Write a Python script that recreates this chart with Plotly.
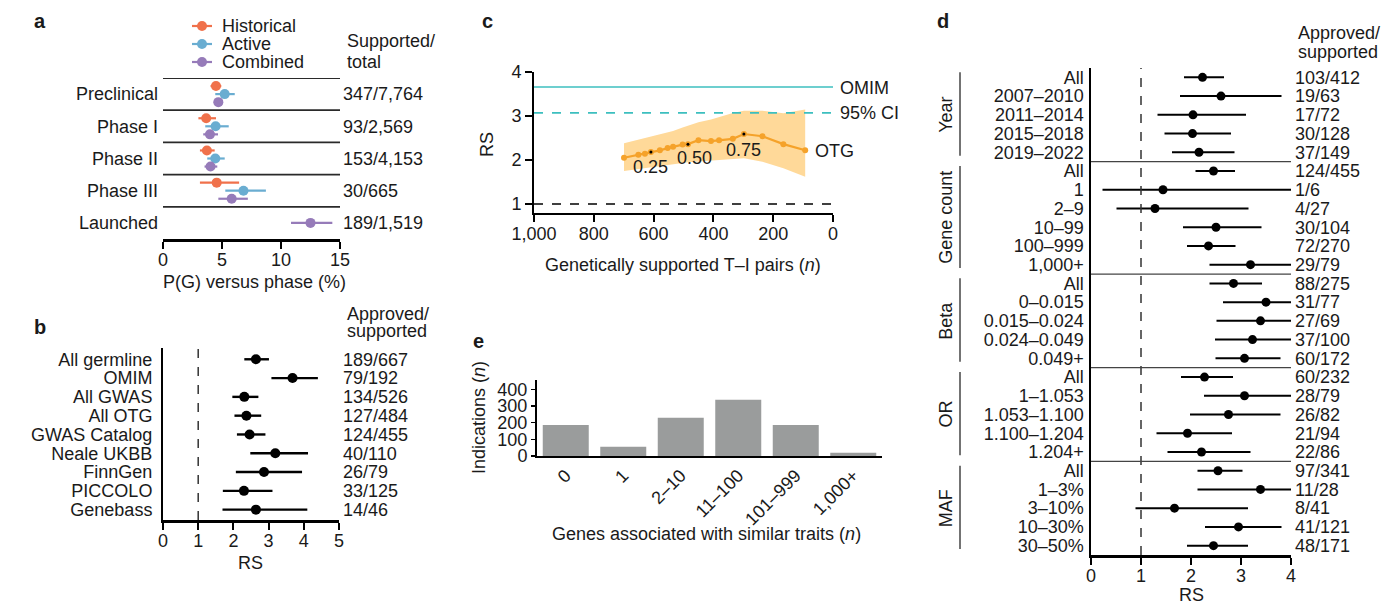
import plotly.graph_objects as go

W, H = 1386, 601
FONT = "Liberation Sans, Arial, Helvetica, sans-serif"
TXT = "#1a1a1a"
FS = 18

def fx(p):
    return p / W

def fy(p):
    return 1 - p / H

# ---------------- Panel a data ----------------
phases = ["Preclinical", "Phase I", "Phase II", "Phase III", "Launched"]
supported_total = ["347/7,764", "93/2,569", "153/4,153", "30/665", "189/1,519"]
series_names = ["Historical", "Active", "Combined"]
series_colors = ["#F0714B", "#6AADD1", "#967BB9"]
hist_pg = [4.49, 3.66, 3.72, 4.55, None]
hist_lo = [4.03, 3.00, 3.13, 3.13, None]
hist_hi = [4.94, 4.49, 4.38, 6.45, None]
active_pg = [5.23, 4.46, 4.43, 6.82, None]
active_lo = [4.43, 3.58, 3.75, 5.28, None]
active_hi = [6.08, 5.57, 5.23, 8.72, None]
comb_pg = [4.69, 3.98, 4.03, 5.82, 12.50]
comb_lo = [4.30, 3.41, 3.52, 4.69, 10.85]
comb_hi = [5.06, 4.66, 4.60, 7.19, 14.35]

# ---------------- Panel b data ----------------
sources = ["All germline", "OMIM", "All GWAS", "All OTG", "GWAS Catalog",
           "Neale UKBB", "FinnGen", "PICCOLO", "Genebass"]
src_rs = [2.64, 3.68, 2.31, 2.37, 2.46, 3.19, 2.87, 2.30, 2.64]
src_lo = [2.31, 3.08, 1.97, 2.03, 2.10, 2.48, 2.07, 1.70, 1.69]
src_hi = [3.01, 4.40, 2.71, 2.79, 2.91, 4.12, 3.95, 3.11, 4.10]
src_counts = ["189/667", "79/192", "134/526", "127/484", "124/455",
              "40/110", "26/79", "33/125", "14/46"]

# ---------------- Panel c data ----------------
otg_n = [699, 651, 629, 609, 579, 553, 535, 503, 485, 450, 408, 381, 335, 298, 236, 166, 93]
otg_rs = [2.05, 2.12, 2.14, 2.18, 2.22, 2.27, 2.30, 2.35, 2.36, 2.45, 2.43, 2.45, 2.48, 2.59, 2.54, 2.36, 2.22]
otg_lo = [1.75, 1.79, 1.81, 1.83, 1.85, 1.88, 1.90, 1.93, 1.95, 1.97, 1.99, 2.00, 2.02, 2.04, 1.96, 1.81, 1.62]
otg_hi = [2.38, 2.46, 2.50, 2.53, 2.58, 2.62, 2.66, 2.74, 2.78, 2.86, 2.92, 2.97, 3.07, 3.12, 3.12, 3.06, 3.15]
quantile_idx = [3, 8, 13]
quantile_labels = ["0.25", "0.50", "0.75"]
omim_rs = 3.66
omim_ci_lo = 3.07
c_xticks = [1000, 800, 600, 400, 200, 0]
c_yticks = [1, 2, 3, 4]

# ---------------- Panel e data ----------------
gene_bins = ["0", "1", "2–10", "11–100", "101–999", "1,000+"]
indications = [186, 56, 230, 338, 186, 20]

# ---------------- Panel d data ----------------
d_labels = ["All", "2007–2010", "2011–2014", "2015–2018", "2019–2022",
            "All", "1", "2–9", "10–99", "100–999", "1,000+",
            "All", "0–0.015", "0.015–0.024", "0.024–0.049", "0.049+",
            "All", "1–1.053", "1.053–1.100", "1.100–1.204", "1.204+",
            "All", "1–3%", "3–10%", "10–30%", "30–50%"]
d_groups = ["Year", "Gene count", "Beta", "OR", "MAF"]
d_group_sizes = [5, 6, 5, 5, 5]
d_rs = [2.23, 2.60, 2.04, 2.03, 2.16,
        2.45, 1.44, 1.28, 2.50, 2.35, 3.19,
        2.85, 3.50, 3.39, 3.23, 3.07,
        2.27, 3.07, 2.75, 1.93, 2.21,
        2.54, 3.39, 1.67, 2.95, 2.45]
d_lo = [1.86, 1.78, 1.33, 1.47, 1.62,
        2.09, 0.23, 0.51, 1.84, 1.92, 2.37,
        2.37, 2.64, 2.51, 2.48, 2.49,
        1.80, 2.26, 1.98, 1.31, 1.53,
        2.13, 2.13, 0.89, 2.28, 1.92]
d_hi = [2.66, 3.81, 3.10, 2.80, 2.87,
        2.88, 4.60, 3.15, 3.41, 2.89, 4.30,
        3.42, 4.50, 4.40, 4.30, 3.79,
        2.84, 4.20, 3.79, 2.82, 3.19,
        3.03, 4.80, 3.14, 3.81, 3.14]
d_counts = ["103/412", "19/63", "17/72", "30/128", "37/149",
            "124/455", "1/6", "4/27", "30/104", "72/270", "29/79",
            "88/275", "31/77", "27/69", "37/100", "60/172",
            "60/232", "28/79", "26/82", "21/94", "22/86",
            "97/341", "11/28", "8/41", "41/121", "48/171"]

fig = go.Figure()
tickfont = dict(family=FONT, size=FS, color=TXT)

# ---------------- Panel a traces ----------------
series_vals = [(hist_pg, hist_lo, hist_hi), (active_pg, active_lo, active_hi), (comb_pg, comb_lo, comb_hi)]
offsets = [-0.25, 0.0, 0.25]
for s, (vals, lo, hi) in enumerate(series_vals):
    xs, ys, ep, em = [], [], [], []
    for k, v in enumerate(vals):
        if v is None:
            continue
        n_present = sum(1 for sv in series_vals if sv[0][k] is not None)
        off = offsets[s] if n_present > 1 else 0.0
        xs.append(v)
        ys.append(k + off)
        ep.append(hi[k] - v)
        em.append(v - lo[k])
    fig.add_trace(go.Scatter(
        x=xs, y=ys, mode="markers", xaxis="x", yaxis="y",
        marker=dict(color=series_colors[s], size=10),
        error_x=dict(type="data", symmetric=False, array=ep, arrayminus=em,
                     width=0, thickness=2.2, color=series_colors[s]),
        showlegend=False, hoverinfo="skip"))
fig.add_trace(go.Scatter(x=comb_pg, y=list(range(len(phases))), mode="markers",
                         xaxis="x", yaxis="y6", marker=dict(opacity=0),
                         showlegend=False, hoverinfo="skip"))

# ---------------- Panel b traces ----------------
fig.add_trace(go.Scatter(
    x=src_rs, y=list(range(len(sources))), mode="markers", xaxis="x2", yaxis="y2",
    marker=dict(color="black", size=10),
    error_x=dict(type="data", symmetric=False,
                 array=[h - v for h, v in zip(src_hi, src_rs)],
                 arrayminus=[v - l for v, l in zip(src_rs, src_lo)],
                 width=0, thickness=2.4, color="black"),
    showlegend=False, hoverinfo="skip"))
fig.add_trace(go.Scatter(x=src_rs, y=list(range(len(sources))), mode="markers",
                         xaxis="x2", yaxis="y7", marker=dict(opacity=0),
                         showlegend=False, hoverinfo="skip"))

# ---------------- Panel c traces ----------------
fig.add_trace(go.Scatter(x=otg_n, y=otg_lo, mode="lines", line=dict(width=0),
                         xaxis="x3", yaxis="y3", showlegend=False, hoverinfo="skip"))
fig.add_trace(go.Scatter(x=otg_n, y=otg_hi, mode="lines", line=dict(width=0),
                         fill="tonexty", fillcolor="rgba(255,210,135,0.85)",
                         xaxis="x3", yaxis="y3", showlegend=False, hoverinfo="skip"))
fig.add_trace(go.Scatter(x=otg_n, y=otg_rs, mode="lines+markers",
                         line=dict(color="#F5A22A", width=2.2),
                         marker=dict(color="#F5A22A", size=6),
                         xaxis="x3", yaxis="y3", showlegend=False, hoverinfo="skip"))
fig.add_trace(go.Scatter(x=[otg_n[i] for i in quantile_idx], y=[otg_rs[i] for i in quantile_idx],
                         mode="markers", marker=dict(color="black", size=3),
                         xaxis="x3", yaxis="y3", showlegend=False, hoverinfo="skip"))

# ---------------- Panel e traces ----------------
fig.add_trace(go.Bar(x=gene_bins, y=indications, marker=dict(color="#9A9C9C", line=dict(width=0)),
                     xaxis="x4", yaxis="y4", showlegend=False, hoverinfo="skip"))

# ---------------- Panel d traces ----------------
fig.add_trace(go.Scatter(
    x=d_rs, y=list(range(len(d_labels))), mode="markers", xaxis="x5", yaxis="y5",
    marker=dict(color="black", size=9),
    error_x=dict(type="data", symmetric=False,
                 array=[h - v for h, v in zip(d_hi, d_rs)],
                 arrayminus=[v - l for v, l in zip(d_rs, d_lo)],
                 width=0, thickness=2.0, color="black"),
    showlegend=False, hoverinfo="skip"))
fig.add_trace(go.Scatter(x=d_rs, y=list(range(len(d_labels))), mode="markers",
                         xaxis="x5", yaxis="y8", marker=dict(opacity=0),
                         showlegend=False, hoverinfo="skip"))

base_ax = dict(showgrid=False, zeroline=False, tickfont=tickfont, linecolor="black",
               automargin=False, tickcolor="black")

na, nb, nd = len(phases), len(sources), len(d_labels)
layout_axes = dict(
    # a
    xaxis=dict(base_ax, domain=[fx(163), fx(340)], range=[0, 15], anchor="y",
               tickvals=[0, 5, 10, 15], ticks="outside", ticklen=7, tickwidth=2,
               showline=True, linewidth=2.6, ticklabelstandoff=-4),
    yaxis=dict(base_ax, domain=[fy(239), fy(78)], range=[na - 0.5, -0.5], anchor="x",
               tickvals=list(range(na)), ticktext=phases, ticks="", showline=False,
               ticklabelstandoff=4),
    yaxis6=dict(base_ax, overlaying="y", side="right", anchor="x", range=[na - 0.5, -0.5],
                tickvals=list(range(na)), ticktext=supported_total, ticks="", showline=False,
                ticklabelstandoff=2),
    # b
    xaxis2=dict(base_ax, domain=[fx(163), fx(339)], range=[0, 5], anchor="y2",
                tickvals=[0, 1, 2, 3, 4, 5], ticks="outside", ticklen=7, tickwidth=2,
                showline=True, linewidth=2.6, ticklabelstandoff=-4),
    yaxis2=dict(base_ax, domain=[fy(520), fy(348)], range=[nb - 0.45, -0.6], anchor="x2",
                tickvals=list(range(nb)), ticktext=sources, ticks="", showline=True, linewidth=2,
                ticklabelstandoff=5),
    yaxis7=dict(base_ax, overlaying="y2", side="right", anchor="x2", range=[nb - 0.45, -0.6],
                tickvals=list(range(nb)), ticktext=src_counts, ticks="", showline=False,
                ticklabelstandoff=3),
    # c
    xaxis3=dict(base_ax, domain=[fx(534), fx(833)], range=[1000, 0], anchor="y3",
                tickvals=c_xticks, tickformat=",", ticks="outside", ticklen=7, tickwidth=2,
                showline=True, linewidth=2, ticklabelstandoff=-4),
    yaxis3=dict(base_ax, domain=[fy(213), fy(72)], range=[0.795, 4.0], anchor="x3",
                tickvals=c_yticks, ticks="outside", ticklen=7, tickwidth=2,
                showline=True, linewidth=2),
    # e
    xaxis4=dict(base_ax, domain=[fx(537), fx(882)], range=[-0.5, len(gene_bins) - 0.5], anchor="y4",
                type="category", tickangle=-45, ticks="", showline=True, linewidth=2),
    yaxis4=dict(base_ax, domain=[fy(456), fy(380)], range=[0, 456], anchor="x4",
                tickvals=[0, 100, 200, 300, 400], ticks="outside", ticklen=4, tickwidth=1.5,
                showline=True, linewidth=2),
    # d
    xaxis5=dict(base_ax, domain=[fx(1091), fx(1291)], range=[0, 4], anchor="y5",
                tickvals=[0, 1, 2, 3, 4], ticks="outside", ticklen=7, tickwidth=2,
                showline=True, linewidth=2.6, ticklabelstandoff=-4),
    yaxis5=dict(base_ax, domain=[fy(555), fy(68)], range=[nd - 0.5, -0.5], anchor="x5",
                tickvals=list(range(nd)), ticktext=d_labels, ticks="", showline=True, linewidth=1.6,
                ticklabelstandoff=2),
    yaxis8=dict(base_ax, overlaying="y5", side="right", anchor="x5", range=[nd - 0.5, -0.5],
                tickvals=list(range(nd)), ticktext=d_counts, ticks="", showline=False,
                ticklabelstandoff=3),
)

shapes = []
# a separators
for k in range(na):
    shapes.append(dict(type="line", xref="x", yref="y", x0=0, x1=15, y0=k - 0.5, y1=k - 0.5,
                       line=dict(color="#2a2a2a", width=1.8)))
# a legend icons
leg_y = [26, 44, 62]
for s in range(3):
    shapes.append(dict(type="line", xref="paper", yref="paper", x0=fx(192), x1=fx(212),
                       y0=fy(leg_y[s]), y1=fy(leg_y[s]), line=dict(color=series_colors[s], width=2.2)))
    shapes.append(dict(type="circle", xref="paper", yref="paper", xsizemode="pixel", ysizemode="pixel",
                       xanchor=fx(202), yanchor=fy(leg_y[s]), x0=-5, x1=5, y0=-5, y1=5,
                       fillcolor=series_colors[s], line=dict(width=0)))
# b dashed line at RS = 1
shapes.append(dict(type="line", xref="x2", yref="y2 domain", x0=1, x1=1, y0=0, y1=1,
                   line=dict(color="#333", width=1.5, dash="dash")))
# c reference lines
shapes.append(dict(type="line", xref="x3 domain", yref="y3", x0=0, x1=1, y0=omim_rs, y1=omim_rs,
                   line=dict(color="#3CBFBF", width=1.6)))
shapes.append(dict(type="line", xref="x3 domain", yref="y3", x0=0, x1=1, y0=omim_ci_lo, y1=omim_ci_lo,
                   line=dict(color="#3CBFBF", width=1.6, dash="dash")))
shapes.append(dict(type="line", xref="x3 domain", yref="y3", x0=0, x1=1, y0=1, y1=1,
                   line=dict(color="black", width=1.6, dash="dash")))
# d dashed line and separators
shapes.append(dict(type="line", xref="x5", yref="y5 domain", x0=1, x1=1, y0=0, y1=1,
                   line=dict(color="#333", width=1.5, dash="dash")))
start = 0
group_bounds = []
for g, size in enumerate(d_group_sizes):
    end = start + size - 1
    group_bounds.append((start, end))
    if g > 0:
        shapes.append(dict(type="line", xref="x5", yref="y5", x0=0, x1=4, y0=start - 0.5, y1=start - 0.5,
                           line=dict(color="#444", width=1.2)))
    shapes.append(dict(type="line", xref="paper", yref="y5", x0=fx(960), x1=fx(960),
                       y0=start - 0.27, y1=end + 0.18, line=dict(color="#444", width=1.5)))
    start = end + 1

annotations = []

def ann(text, x, y, xanchor="left", size=FS, bold=False, angle=0, xref="paper", yref="paper",
        xshift=0, yshift=0, color=TXT):
    annotations.append(dict(
        text=("<b>%s</b>" % text) if bold else text,
        x=fx(x) if xref == "paper" else x, y=fy(y) if yref == "paper" else y,
        xref=xref, yref=yref, xanchor=xanchor, yanchor="middle", showarrow=False,
        textangle=angle, xshift=xshift, yshift=yshift,
        font=dict(family=FONT, size=size, color=color)))

# panel letters
ann("a", 40, 21, "center", 20, True)
ann("b", 40, 327, "center", 20, True)
ann("c", 488, 21, "center", 20, True)
ann("e", 479, 341, "center", 20, True)
ann("d", 943, 21, "center", 20, True)

# a
for s in range(3):
    ann(series_names[s], 220, leg_y[s])
ann("Supported/", 345, 41)
ann("total", 345, 62)
ann("P(G) versus phase (%)", 255, 282, "center")

# b
ann("Approved/", 345, 314)
ann("supported", 345, 331)
ann("RS", 250, 563, "center")

# c
ann("OMIM", 838, 88)
ann("95% CI", 838, 113)
ann("OTG", 813, 151)
ann("RS", 487, 145, "center", angle=-90)
ann("Genetically supported T–I pairs (<i>n</i>)", 683, 265, "center")
q_shifts = [(0, -15), (7, -14), (0, -16)]
for qi, lab, (xs_, ys_) in zip(quantile_idx, quantile_labels, q_shifts):
    ann(lab, otg_n[qi], otg_rs[qi], "center", xref="x3", yref="y3", xshift=xs_, yshift=ys_)

# e
ann("Indications (<i>n</i>)", 479, 417, "center", angle=-90)
ann("Genes associated with similar traits (<i>n</i>)", 707, 534, "center")

# d
ann("Approved/", 1296, 33)
ann("supported", 1296, 52)
ann("RS", 1191, 595, "center")
for g, (s0, e0) in enumerate(group_bounds):
    ann(d_groups[g], 946, (s0 + e0) / 2, "center", angle=-90, yref="y5")

fig.update_layout(
    width=W, height=H, margin=dict(l=0, r=0, t=0, b=0, pad=0),
    paper_bgcolor="white", plot_bgcolor="white",
    font=dict(family=FONT, size=FS, color=TXT),
    bargap=0.2, shapes=shapes, annotations=annotations, showlegend=False,
    **layout_axes)

fig.write_html("out.html", config={"displayModeBar": False, "staticPlot": True},
               post_script="document.body.style.margin='0px';document.body.style.overflow='hidden';")
